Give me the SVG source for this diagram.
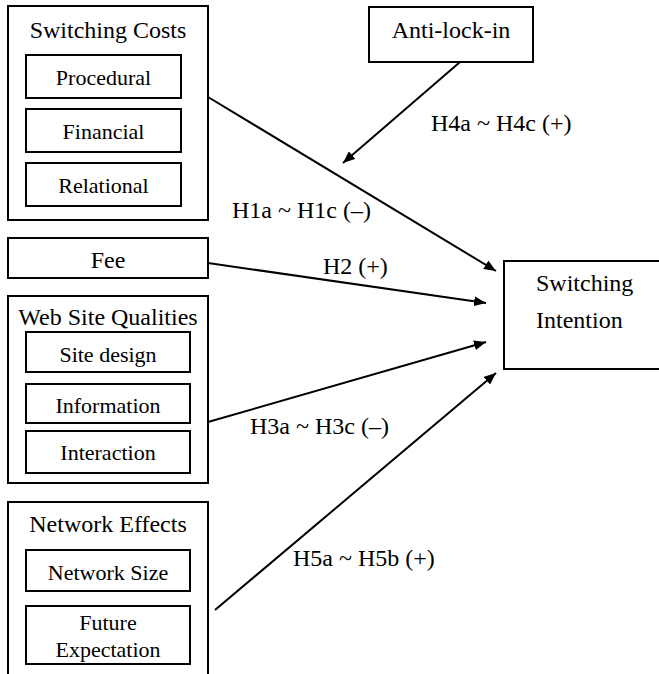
<svg xmlns="http://www.w3.org/2000/svg" width="659" height="674" viewBox="0 0 659 674" font-family="Times New Roman, Liberation Serif, Tinos, DejaVu Serif, serif" font-size="22">
<defs>
<marker id="ah" viewBox="0 0 12 10" refX="12" refY="5" markerWidth="12" markerHeight="10" markerUnits="userSpaceOnUse" orient="auto">
<path d="M0,0 L12,5 L0,10 z" fill="#000"/>
</marker>
</defs>
<style>
rect{fill:#fff;stroke:#000;stroke-width:2}
.c{text-anchor:middle}
.t{font-size:24px}
line{stroke:#000;stroke-width:2;marker-end:url(#ah)}
</style>
<rect width="659" height="674" style="fill:#fff;stroke:none"/>
<g id="switching-costs">
<rect x="8" y="6" width="200" height="214"/>
<text class="c t" x="108" y="38">Switching Costs</text>
<rect x="26" y="55" width="155" height="43"/>
<text class="c" x="103.5" y="85">Procedural</text>
<rect x="26" y="109" width="155" height="43"/>
<text class="c" x="103.5" y="139">Financial</text>
<rect x="26" y="163" width="155" height="43"/>
<text class="c" x="103.5" y="193">Relational</text>
</g>
<g id="fee">
<rect x="8" y="238" width="200" height="40"/>
<text class="c t" x="108" y="268">Fee</text>
</g>
<g id="web-site-qualities">
<rect x="8" y="296" width="200" height="187"/>
<text class="c t" x="108" y="325">Web Site Qualities</text>
<rect x="26" y="332" width="164" height="40"/>
<text class="c" x="108" y="362">Site design</text>
<rect x="26" y="384" width="164" height="39"/>
<text class="c" x="108" y="413">Information</text>
<rect x="26" y="431" width="164" height="42"/>
<text class="c" x="108" y="460">Interaction</text>
</g>
<g id="network-effects">
<rect x="8" y="502" width="200" height="190"/>
<text class="c t" x="108" y="532">Network Effects</text>
<rect x="26" y="550" width="164" height="41"/>
<text class="c" x="108" y="580">Network Size</text>
<rect x="26" y="606" width="164" height="58"/>
<text class="c" x="108" y="630">Future</text>
<text class="c" x="108" y="657">Expectation</text>
</g>
<g id="anti-lock-in">
<rect x="369" y="7" width="164" height="55"/>
<text class="c t" x="451" y="38">Anti-lock-in</text>
</g>
<g id="switching-intention">
<rect x="504" y="261" width="170" height="108"/>
<text class="t" x="536" y="291">Switching</text>
<text class="t" x="536" y="328">Intention</text>
</g>
<g id="connectors">
<line x1="460" y1="62" x2="343" y2="163"/>
<line x1="208" y1="97" x2="496" y2="271"/>
<line x1="208" y1="263" x2="486" y2="303"/>
<line x1="208" y1="422" x2="486" y2="342"/>
<line x1="215" y1="610" x2="496" y2="373"/>
<text class="t" x="431" y="131">H4a ~ H4c (+)</text>
<text class="t" x="232" y="218">H1a ~ H1c (–)</text>
<text class="t" x="323" y="274">H2 (+)</text>
<text class="t" x="250" y="434">H3a ~ H3c (–)</text>
<text class="t" x="293" y="566">H5a ~ H5b (+)</text>
</g>
</svg>
